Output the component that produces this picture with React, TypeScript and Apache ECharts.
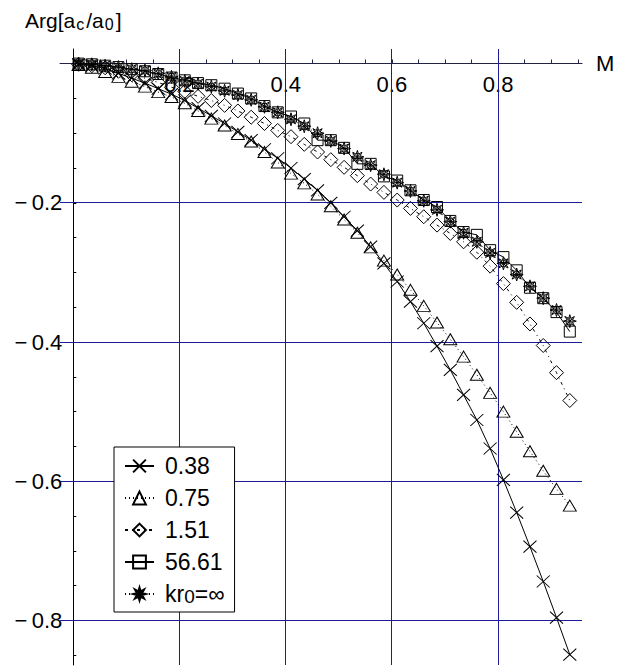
import React, { useEffect, useRef } from 'react';
import * as echarts from 'echarts';

// Mach number samples
const M = [0.01, 0.035, 0.06, 0.085, 0.11, 0.135, 0.16, 0.185, 0.21, 0.235, 0.26, 0.285, 0.31, 0.335, 0.36, 0.385, 0.41, 0.435, 0.46, 0.485, 0.51, 0.535, 0.56, 0.585, 0.61, 0.635, 0.66, 0.685, 0.71, 0.735, 0.76, 0.785, 0.81, 0.835, 0.86, 0.885, 0.91, 0.935];

// Arg[a_c/a_0] for each kr0
const kr038 = [-0.001, -0.003, -0.007, -0.014, -0.021, -0.028, -0.036, -0.044, -0.053, -0.064, -0.075, -0.086, -0.098, -0.110, -0.123, -0.136, -0.150, -0.166, -0.182, -0.200, -0.220, -0.240, -0.263, -0.287, -0.313, -0.342, -0.373, -0.406, -0.440, -0.476, -0.512, -0.553, -0.598, -0.645, -0.694, -0.744, -0.796, -0.849];
const kr075 = [-0.002, -0.006, -0.012, -0.019, -0.026, -0.033, -0.041, -0.048, -0.057, -0.068, -0.079, -0.089, -0.101, -0.112, -0.127, -0.142, -0.158, -0.172, -0.188, -0.205, -0.224, -0.243, -0.264, -0.283, -0.303, -0.325, -0.348, -0.372, -0.396, -0.421, -0.447, -0.473, -0.500, -0.529, -0.557, -0.585, -0.611, -0.635];
const kr151 = [-0.001, -0.003, -0.006, -0.011, -0.016, -0.021, -0.027, -0.034, -0.040, -0.047, -0.053, -0.060, -0.068, -0.077, -0.086, -0.096, -0.105, -0.116, -0.127, -0.138, -0.149, -0.161, -0.173, -0.185, -0.196, -0.208, -0.220, -0.232, -0.244, -0.256, -0.271, -0.291, -0.316, -0.343, -0.374, -0.405, -0.444, -0.484];
const kr5661 = [0.0, -0.001, -0.003, -0.005, -0.008, -0.011, -0.015, -0.020, -0.024, -0.028, -0.031, -0.036, -0.043, -0.050, -0.061, -0.070, -0.076, -0.086, -0.110, -0.110, -0.121, -0.144, -0.144, -0.162, -0.168, -0.182, -0.196, -0.206, -0.226, -0.242, -0.246, -0.268, -0.278, -0.297, -0.322, -0.337, -0.357, -0.385];
const krInf = [0.0, -0.001, -0.003, -0.005, -0.008, -0.010, -0.014, -0.019, -0.025, -0.029, -0.033, -0.039, -0.045, -0.052, -0.062, -0.070, -0.080, -0.090, -0.100, -0.111, -0.122, -0.134, -0.146, -0.159, -0.171, -0.183, -0.197, -0.210, -0.227, -0.243, -0.256, -0.272, -0.287, -0.303, -0.320, -0.337, -0.354, -0.370];

const seriesNames = ['0.38', '0.75', '1.51', '56.61', 'kr0=∞'];

// Axis ranges, ticks and labels
const xRange = [-0.025, 0.958];
const yRange = [-0.864, 0.021];
const xLabelValues = [0.2, 0.4, 0.6, 0.8];
const yLabelValues = [-0.8, -0.6, -0.4, -0.2];
const xMinorTicks = [0.05, 0.1, 0.15, 0.2, 0.25, 0.3, 0.35, 0.4, 0.45, 0.5, 0.55, 0.6, 0.65, 0.7, 0.75, 0.8, 0.85, 0.9, 0.95];
const yMinorTicks = [-0.05, -0.1, -0.15, -0.2, -0.25, -0.3, -0.35, -0.4, -0.45, -0.5, -0.55, -0.6, -0.65, -0.7, -0.75, -0.8, -0.85];

const FONT = "'Liberation Sans', Arial, Helvetica, sans-serif";
const GRID_COLOR = '#1c1c9a';

const CROSS = 'path://M0,0L10,10M10,0L0,10';
const STAR =
  'path://M10,0L11.72,5.84L17.07,2.93L14.16,8.28L20,10L14.16,11.72L17.07,17.07L11.72,14.16L10,20L8.28,14.16L2.93,17.07L5.84,11.72L0,10L5.84,8.28L2.93,2.93L8.28,5.84ZM10,4L10,16M4,10L16,10M5.8,5.8L14.2,14.2M14.2,5.8L5.8,14.2';

const crisp = (p: number) => Math.round(p - 0.5) + 0.5;

export default function App() {
  const ref = useRef<HTMLDivElement>(null);

  useEffect(() => {
    document.body.style.margin = '0';
    const chart = echarts.init(ref.current!, null, { renderer: 'svg' });

    const mk = (name: string, values: number[], symbol: string, size: number[] | number, lineType: any) => ({
      type: 'line',
      name,
      data: M.map((m, i) => [m, values[i]]),
      symbol,
      symbolSize: size,
      showSymbol: true,
      lineStyle: { color: '#000', width: 1, type: lineType },
      itemStyle: { color: 'rgba(255,255,255,0)', borderColor: '#000', borderWidth: 1 },
      emphasis: { disabled: true },
      silent: true,
      z: 3,
    });

    // gridline specs: [orientation (0 = vertical, 1 = horizontal), value]
    const gridData = [
      ...xLabelValues.map((v) => [0, v]),
      ...yLabelValues.map((v) => [1, v]),
    ];

    const option: any = {
      animation: false,
      backgroundColor: '#fff',
      grid: { left: 60, top: 49, width: 522, height: 616, containLabel: false },
      xAxis: {
        type: 'value',
        min: xRange[0],
        max: xRange[1],
        offset: -601.5,
        name: 'M',
        nameLocation: 'end',
        nameGap: 14,
        nameTextStyle: { fontSize: 22, fontFamily: FONT, color: '#000' },
        axisLine: { onZero: false, lineStyle: { color: '#222244', width: 1 } },
        axisTick: { show: true, inside: true, length: 4, customValues: xMinorTicks, lineStyle: { color: '#222244' } },
        axisLabel: {
          customValues: xLabelValues,
          fontSize: 22,
          fontFamily: FONT,
          color: '#000',
          margin: 10,
          formatter: (v: number) => v.toFixed(1),
        },
        splitLine: { show: false },
      },
      yAxis: {
        type: 'value',
        min: yRange[0],
        max: yRange[1],
        offset: -13.3,
        name: 'Arg[a{sub|c}/a{sub|0}]',
        nameLocation: 'end',
        nameGap: 17,
        nameTextStyle: {
          fontSize: 21,
          fontFamily: FONT,
          color: '#000',
          lineHeight: 24,
          align: 'center',
          rich: {
            sub: { fontSize: 16, fontFamily: FONT, lineHeight: 16, verticalAlign: 'bottom', padding: [0, 2, 0, 1] },
          },
        },
        axisLine: { onZero: false, lineStyle: { color: '#000', width: 1 } },
        axisTick: { show: true, inside: true, length: 3, customValues: yMinorTicks, lineStyle: { color: '#000' } },
        axisLabel: {
          customValues: yLabelValues,
          fontSize: 22,
          fontFamily: FONT,
          color: '#000',
          margin: 11,
          formatter: (v: number) => '\u2212\u2009' + Math.abs(v).toFixed(1),
        },
        splitLine: { show: false },
      },
      legend: {
        show: true,
        data: seriesNames,
        orient: 'vertical',
        left: 114,
        top: 447,
        padding: [7, 10, 6, 10],
        itemWidth: 29,
        itemHeight: 16,
        itemGap: 8,
        backgroundColor: '#fff',
        borderColor: '#000',
        borderWidth: 1,
        borderRadius: 0,
        selectedMode: false,
        z: 10,
        formatter: (name: string) => (name === 'kr0=∞' ? 'kr{sub|0}=∞' : name),
        textStyle: {
          fontSize: 23,
          fontFamily: FONT,
          color: '#000',
          lineHeight: 24,
          padding: [0, 0, 0, 6],
          rich: {
            sub: { fontSize: 19, fontFamily: FONT, lineHeight: 19, verticalAlign: 'bottom' },
          },
        },
      },
      series: [
        {
          type: 'custom',
          name: 'gridlines',
          coordinateSystem: 'cartesian2d',
          data: gridData,
          silent: true,
          z: 1,
          clip: false,
          renderItem: (params: any, api: any) => {
            const kind = api.value(0);
            const v = api.value(1);
            const p1 = kind === 0 ? api.coord([v, yRange[1]]) : api.coord([xRange[0], v]);
            const p2 = kind === 0 ? api.coord([v, yRange[0]]) : api.coord([xRange[1], v]);
            const shape =
              kind === 0
                ? { x1: crisp(p1[0]), y1: p1[1], x2: crisp(p2[0]), y2: p2[1] }
                : { x1: p1[0], y1: crisp(p1[1]), x2: p2[0], y2: crisp(p2[1]) };
            return {
              type: 'line',
              shape,
              style: { stroke: GRID_COLOR, lineWidth: 1, fill: null },
            };
          },
        },
        mk(seriesNames[0], kr038, CROSS, [13, 12], 'solid'),
        mk(seriesNames[1], kr075, 'triangle', [13, 11], [1, 3]),
        mk(seriesNames[2], kr151, 'diamond', [14, 14], [3, 4, 1, 4]),
        mk(seriesNames[3], kr5661, 'rect', [11, 11], 'solid'),
        mk(seriesNames[4], krInf, STAR, [13, 13], [1, 3]),
      ],
    };

    chart.setOption(option);
    return () => chart.dispose();
  }, []);

  return (
    <div
      ref={ref}
      style={{ position: 'absolute', left: 0, top: 0, width: 629, height: 667, background: '#fff' }}
    />
  );
}
